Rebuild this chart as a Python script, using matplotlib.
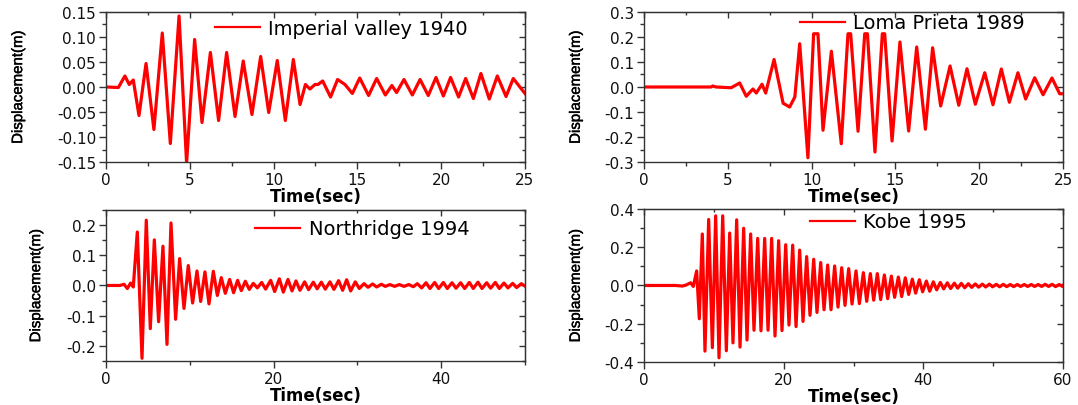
import matplotlib
matplotlib.use("Agg")
import matplotlib.pyplot as plt
import matplotlib.patheffects as pe
from matplotlib.ticker import MultipleLocator, FormatStrFormatter

plt.rcParams['axes.unicode_minus'] = False

# displacement records (peaks / troughs)
t_imperial = [0, 0.74, 1.13, 1.39, 1.63, 1.97, 2.39, 2.86, 3.36, 3.84, 4.36, 4.81, 5.29, 5.73, 6.23,
              6.72, 7.2, 7.7, 8.19, 8.71, 9.23, 9.71, 10.22, 10.7, 11.18, 11.58, 11.9, 12.17, 12.47, 12.65,
              12.93, 13.4, 13.82, 14.26, 14.7, 15.14, 15.67, 16.15, 16.67, 17.06, 17.34, 17.78, 18.28, 18.74,
              19.23, 19.69, 20.13, 20.56, 21.04, 21.46, 21.92, 22.37, 22.87, 23.35, 23.87, 24.3, 25]
d_imperial = [0, -0.001, 0.022, 0.005, 0.014, -0.057, 0.047, -0.085, 0.108, -0.113, 0.142, -0.152, 0.095, -0.071, 0.069,
              -0.067, 0.069, -0.059, 0.052, -0.055, 0.061, -0.051, 0.053, -0.067, 0.055, -0.035, 0.005, -0.004, 0.005, 0.005,
              0.012, -0.02, 0.015, 0.005, -0.013, 0.018, -0.017, 0.017, -0.016, 0.003, -0.011, 0.015, -0.016, 0.015,
              -0.017, 0.019, -0.018, 0.019, -0.02, 0.017, -0.023, 0.027, -0.024, 0.022, -0.019, 0.017, -0.013]

t_loma = [0, 4.0, 4.1, 4.3, 5.2, 5.71, 6.1, 6.5, 6.7, 7.04, 7.26, 7.76, 8.3, 8.69, 9.0, 9.29, 9.78, 10.12, 10.38, 10.68,
          11.18, 11.77, 12.17, 12.33, 12.77, 13.17, 13.33, 13.78, 14.22, 14.36, 14.8, 15.27, 15.79, 16.27, 16.79,
          17.22, 17.7, 18.26, 18.78, 19.27, 19.77, 20.33, 20.82, 21.32, 21.8, 22.31, 22.77, 23.31, 23.81, 24.34, 24.8, 25]
d_loma = [0, 0, 0.004, 0, -0.003, 0.016, -0.037, -0.008, -0.024, 0.011, -0.024, 0.11, -0.065, -0.08, -0.04, 0.173, -0.283, 0.213, 0.213, -0.173,
          0.143, -0.227, 0.213, 0.213, -0.177, 0.213, 0.213, -0.26, 0.213, 0.213, -0.216, 0.18, -0.176, 0.16, -0.169,
          0.157, -0.076, 0.084, -0.073, 0.073, -0.069, 0.057, -0.071, 0.072, -0.061, 0.057, -0.048, 0.037, -0.031, 0.036, -0.027, -0.027]

t_northridge = [0, 1.67, 2.15, 2.55, 2.94, 3.26, 3.74, 4.3, 4.81, 5.29, 5.77, 6.28, 6.8, 7.28, 7.76, 8.31, 8.79, 9.31,
                9.82, 10.34, 10.86, 11.3, 11.81, 12.29, 12.81, 13.29, 13.76, 14.24, 14.76, 15.23, 15.71, 16.15, 16.63, 17.1,
                17.58, 18.06, 18.58, 19.05, 19.65, 20.13, 20.69, 21.16, 21.72, 22.2, 22.67, 23.15, 23.7, 24.18, 24.74,
                25.2, 25.7, 26.17, 26.73, 27.2, 27.76, 28.24, 28.72, 29.2, 29.75, 30.23, 30.79, 31.27, 31.82, 32.3,
                32.86, 33.33, 33.89, 34.45, 35.0, 35.56, 36.12, 36.67, 37.15, 37.67, 38.19, 38.66, 39.22, 39.7, 40.26,
                40.73, 41.29, 41.77, 42.32, 42.8, 43.36, 43.83, 44.39, 44.87, 45.43, 45.9, 46.46, 46.94, 47.49, 47.97,
                48.53, 49.0, 49.56, 50]
d_northridge = [0, 0, 0.004, -0.01, 0.008, -0.005, 0.177, -0.241, 0.216, -0.143, 0.151, -0.12, 0.13, -0.195, 0.207, -0.112, 0.089, -0.076,
                0.066, -0.058, 0.048, -0.053, 0.045, -0.061, 0.047, -0.033, 0.026, -0.026, 0.02, -0.024, 0.017, -0.017, 0.014, -0.013,
                0.007, -0.008, 0.01, -0.012, 0.017, -0.02, 0.022, -0.022, 0.02, -0.018, 0.015, -0.016, 0.012, -0.014, 0.011,
                -0.011, 0.011, -0.012, 0.012, -0.013, 0.016, -0.016, 0.019, -0.018, 0.012, -0.01, 0.006, -0.006, 0.005, -0.005,
                0.004, -0.003, 0.003, -0.003, 0.003, -0.003, 0.003, -0.004, 0.006, -0.008, 0.009, -0.01, 0.01, -0.01, 0.01,
                -0.01, 0.009, -0.009, 0.009, -0.01, 0.01, -0.01, 0.011, -0.01, 0.009, -0.009, 0.01, -0.01, 0.008, -0.008,
                0.007, -0.007, 0.006, -0.002]

t_kobe = [0, 4.5, 5.5, 6.0, 6.68, 7.06, 7.54, 7.92, 8.35, 8.73, 9.26, 9.79, 10.26, 10.74, 11.27, 11.79, 12.27, 12.74,
          13.27, 13.75, 14.27, 14.75, 15.27, 15.75, 16.28, 16.75, 17.28, 17.76, 18.28, 18.76, 19.28, 19.76, 20.29, 20.76,
          21.29, 21.77, 22.29, 22.77, 23.29, 23.77, 24.3, 24.77, 25.3, 25.78, 26.3, 26.78, 27.3, 27.78, 28.31, 28.78,
          29.31, 29.79, 30.36, 30.84, 31.41, 31.89, 32.41, 32.89, 33.41, 33.89, 34.42, 34.89, 35.42, 35.89, 36.42, 36.9,
          37.42, 37.9, 38.42, 38.9, 39.43, 39.9, 40.43, 40.91, 41.43, 41.91, 42.43, 42.91, 43.44, 43.91, 44.44, 44.92,
          45.44, 45.92, 46.44, 46.92, 47.44, 47.92, 48.45, 48.93, 49.45, 49.93, 50.45, 50.93, 51.45, 51.93, 52.45, 52.93,
          53.45, 53.93, 54.45, 54.93, 55.45, 55.93, 56.45, 56.93, 57.45, 57.93, 58.45, 58.93, 59.45, 59.93, 60]
d_kobe = [0, 0, -0.003, 0.002, 0.014, -0.005, 0.076, -0.174, 0.269, -0.343, 0.345, -0.325, 0.364, -0.378, 0.364, -0.341, 0.274, -0.3,
          0.343, -0.322, 0.299, -0.285, 0.269, -0.234, 0.246, -0.237, 0.246, -0.234, 0.246, -0.264, 0.234, -0.236, 0.213, -0.207,
          0.211, -0.215, 0.185, -0.188, 0.151, -0.156, 0.137, -0.141, 0.12, -0.127, 0.107, -0.127, 0.102, -0.113, 0.093, -0.104,
          0.088, -0.097, 0.076, -0.095, 0.067, -0.083, 0.062, -0.077, 0.062, -0.074, 0.055, -0.069, 0.049, -0.062, 0.044, -0.058,
          0.04, -0.047, 0.033, -0.04, 0.03, -0.033, 0.023, -0.03, 0.019, -0.023, 0.016, -0.018, 0.014, -0.016, 0.012, -0.014,
          0.011, -0.012, 0.009, -0.01, 0.008, -0.009, 0.007, -0.008, 0.007, -0.007, 0.006, -0.007, 0.006, -0.006, 0.005, -0.006,
          0.005, -0.005, 0.005, -0.005, 0.005, -0.005, 0.005, -0.005, 0.006, -0.005, 0.006, -0.006, 0.005, -0.005, 0.0]

names = ["Imperial valley 1940", "Loma Prieta 1989", "Northridge 1994", "Kobe 1995"]

fig = plt.figure(figsize=(10.78, 4.06), dpi=100)

# panel positions (fig fraction) and axis setup
panels = [
    dict(rect=[0.0983, 0.5985, 0.3887, 0.3695], t=t_imperial, d=d_imperial, xlim=(0, 25), ylim=(-0.15, 0.15),
         xmaj=5, xmin=2.5, ymaj=0.05, ymin=0.025, fmt='%.2f', leg=(0.26, 0.893), ylab_x=-0.193),
    dict(rect=[0.5974, 0.5985, 0.3887, 0.3695], t=t_loma, d=d_loma, xlim=(0, 25), ylim=(-0.3, 0.3),
         xmaj=5, xmin=2.5, ymaj=0.1, ymin=0.05, fmt='%.1f', leg=(0.372, 0.927), ylab_x=-0.146),
    dict(rect=[0.0983, 0.1084, 0.3887, 0.372], t=t_northridge, d=d_northridge, xlim=(0, 50), ylim=(-0.25, 0.25),
         xmaj=20, xmin=10, ymaj=0.1, ymin=0.05, fmt='%.1f', leg=(0.356, 0.874), ylab_x=-0.15),
    dict(rect=[0.5974, 0.1059, 0.3887, 0.377], t=t_kobe, d=d_kobe, xlim=(0, 60), ylim=(-0.4, 0.4),
         xmaj=20, xmin=10, ymaj=0.2, ymin=0.1, fmt='%.1f', leg=(0.396, 0.915), ylab_x=-0.146),
]

for p, name in zip(panels, names):
    ax = fig.add_axes(p['rect'])
    ax.plot(p['t'], p['d'], color='#ff0000', lw=2.3, solid_joinstyle='round', label=name)
    ax.set_xlim(*p['xlim'])
    ax.set_ylim(*p['ylim'])

    ax.xaxis.set_major_locator(MultipleLocator(p['xmaj']))
    ax.xaxis.set_minor_locator(MultipleLocator(p['xmin']))
    ax.yaxis.set_major_locator(MultipleLocator(p['ymaj']))
    ax.yaxis.set_minor_locator(MultipleLocator(p['ymin']))
    ax.yaxis.set_major_formatter(FormatStrFormatter(p['fmt']))
    ax.tick_params(which='both', direction='out', color='#333333', labelcolor='#111111', pad=2)
    ax.tick_params(which='major', length=5, width=1)
    ax.tick_params(which='minor', length=3, width=1)
    for lab in ax.get_xticklabels() + ax.get_yticklabels():
        lab.set_fontfamily('DejaVu Sans')
        lab.set_fontsize(11)
    for s in ax.spines.values():
        s.set_color('#333333')
        s.set_linewidth(1.0)

    # mirrored ticks pointing inward on top / right
    top = ax.secondary_xaxis('top')
    top.xaxis.set_major_locator(MultipleLocator(p['xmaj']))
    top.xaxis.set_minor_locator(MultipleLocator(p['xmin']))
    top.tick_params(which='both', direction='in', labeltop=False, color='#333333', width=1)
    top.tick_params(which='major', length=4)
    top.tick_params(which='minor', length=2.5)
    right = ax.secondary_yaxis('right')
    right.yaxis.set_major_locator(MultipleLocator(p['ymaj']))
    right.yaxis.set_minor_locator(MultipleLocator(p['ymin']))
    right.tick_params(which='both', direction='in', labelright=False, color='#333333', width=1)
    right.tick_params(which='major', length=4)
    right.tick_params(which='minor', length=2.5)

    ax.set_xlabel('Time(sec)', fontfamily='DejaVu Sans', fontweight='bold', fontsize=12, labelpad=0)
    ylab = ax.set_ylabel('Displacement(m)', fontfamily='Liberation Sans', fontsize=10.8)
    ylab.set_path_effects([pe.withStroke(linewidth=0.3, foreground='black')])
    ax.yaxis.set_label_coords(p['ylab_x'], 0.5)

    leg = ax.legend(loc='center left', bbox_to_anchor=p['leg'], frameon=False,
                    prop=dict(family='DejaVu Sans', size=14),
                    handlelength=2.3, handletextpad=0.45, borderpad=0, borderaxespad=0)
    for ln in leg.get_lines():
        ln.set_linewidth(1.6)

fig.savefig('out.png', dpi=100)
